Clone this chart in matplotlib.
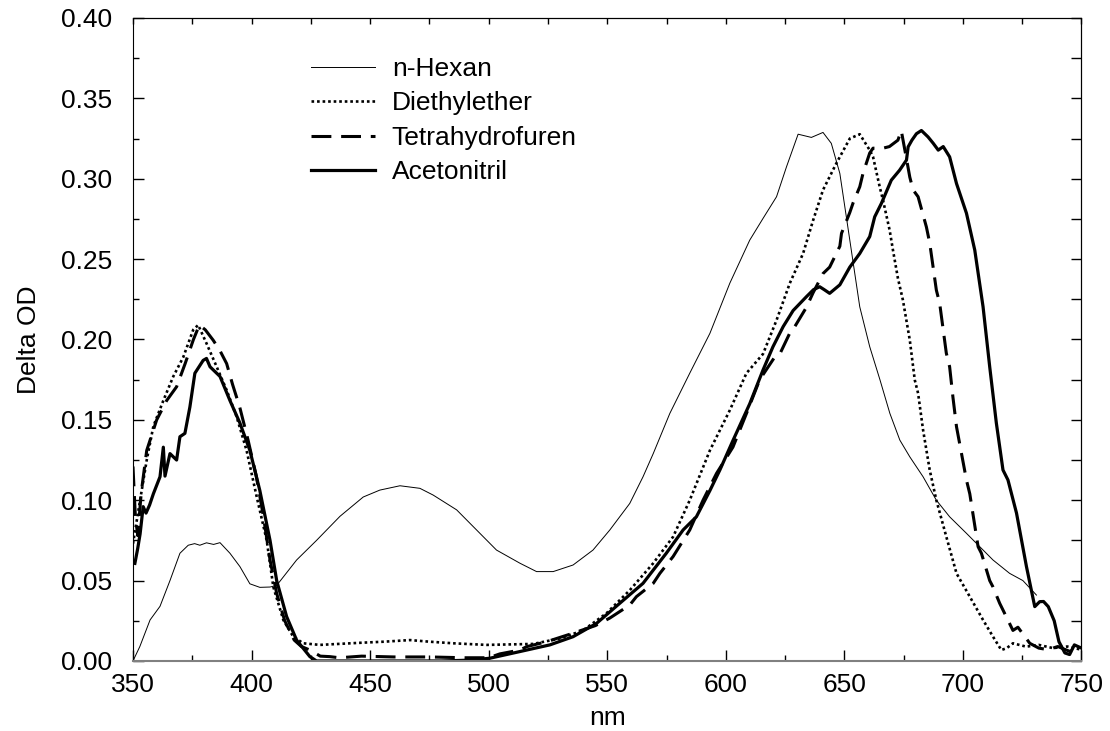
import matplotlib
matplotlib.use("Agg")
import matplotlib.pyplot as plt
from matplotlib.ticker import MultipleLocator, FormatStrFormatter, NullFormatter

plt.rcParams['font.family'] = ['Liberation Sans', 'DejaVu Sans']
plt.rcParams['font.size'] = 19

# n-Hexan (thin line)
hex_x = [350, 352.9, 357.2, 361.4, 365.6, 369.8, 373.3, 376, 378.2, 381, 384, 386.7, 390.9,
         395.1, 399.3, 403.5, 407.8, 410.6, 419, 427.4, 437.3, 447.1, 454.1, 462.6, 471, 476.6,
         486.5, 494.9, 503.3, 513.2, 520.2, 527.2, 535.6, 544, 551.1, 559.5, 565.1, 569.4, 576.4,
         584.8, 593.3, 601.7, 610.1, 615.7, 621.4, 625.6, 630.5, 636.1, 641, 644.5, 648.1, 652.3,
         656.5, 660.7, 665, 669.2, 673.4, 677.6, 683.2, 688.8, 694.4, 701.5, 707.1, 712.7, 719.7,
         725.3, 731]
hex_y = [0.0, 0.009, 0.0255, 0.034, 0.050, 0.067, 0.072, 0.073, 0.072, 0.0735, 0.0725, 0.0736, 0.067,
         0.0587, 0.048, 0.0458, 0.046, 0.047, 0.0628, 0.075, 0.090, 0.102, 0.1063, 0.109, 0.1074, 0.1032,
         0.094, 0.0815, 0.069, 0.0608, 0.0556, 0.0556, 0.0597, 0.069, 0.0815, 0.098, 0.1146, 0.129, 0.154,
         0.179, 0.2038, 0.235, 0.2618, 0.2753, 0.2888, 0.3074, 0.3277, 0.3257, 0.3288, 0.322, 0.3033, 0.2618,
         0.2203, 0.1955, 0.175, 0.154, 0.1374, 0.127, 0.1146, 0.100, 0.0897, 0.0794, 0.0711, 0.0628, 0.0545,
         0.050, 0.041]

# Diethylether (dotted)
ether_x = [350, 353, 355.8, 358.6, 362.8, 367, 371.2, 375.4, 377.5, 381, 385.3, 389.5, 393.7, 397.9,
           402.2, 406.4, 409.2, 413.4, 417.6, 421.8, 428.8, 447.1, 456, 466.8, 475, 485, 499.1, 518.8,
           530, 539.8, 549.7, 559.5, 569.4, 577.8, 584.8, 593.3, 601.7, 608.7, 615.7, 621.4, 627, 632.6,
           636.8, 641, 646.6, 652.3, 656.5, 660.7, 662.1, 664.9, 666.3, 669.1, 670.5, 672.6, 674.7, 677.6,
           679.7, 681.1, 683.2, 686, 688.8, 693, 697.3, 702.9, 708.5, 712.7, 716.2, 718.5, 721.1, 726.7,
           732, 738, 744, 750]
ether_y = [0.073, 0.100, 0.125, 0.146, 0.162, 0.177, 0.189, 0.206, 0.209, 0.1976, 0.183, 0.1685, 0.152, 0.131,
           0.102, 0.075, 0.046, 0.0255, 0.0151, 0.011, 0.010, 0.0114, 0.012, 0.013, 0.012, 0.011, 0.010, 0.0106,
           0.014, 0.019, 0.0297, 0.044, 0.0608, 0.0773, 0.100, 0.131, 0.156, 0.179, 0.191, 0.212, 0.235, 0.2535,
           0.274, 0.293, 0.3095, 0.325, 0.3277, 0.3178, 0.3136, 0.295, 0.2867, 0.268, 0.2556, 0.238, 0.2245, 0.1996,
           0.1748, 0.1665, 0.1437, 0.1188, 0.100, 0.0773, 0.0545, 0.040, 0.0255, 0.0151, 0.0068, 0.008, 0.011, 0.0089,
           0.010, 0.008, 0.009, 0.007]

# Tetrahydrofuren (dashed)
thf_x = [350, 351, 352, 353.5, 355.8, 360, 364.2, 368.4, 372, 375.5, 378, 380.5, 383.8, 386.7, 389.5,
         392, 395, 398.6, 402, 405, 407.8, 410.6, 414, 418, 421, 424.6, 429, 433, 437, 446.4, 460, 475,
         490, 500, 504.7, 513.2, 516, 524.5, 535, 545, 551.1, 559.5, 562.3, 569.4, 572.2, 577.8, 584.8,
         590.4, 596.1, 603, 609, 614.3, 620.6, 622.8, 627, 629.1, 634, 636.8, 641, 643.8, 648.1, 648.8,
         652.3, 653.7, 656.5, 657.9, 660.7, 662.1, 666.3, 669, 672.6, 674, 675, 676.5, 677.6, 679, 681.1,
         684.6, 686, 688.8, 690.2, 693, 694.4, 695.8, 697.3, 701.5, 702.9, 706.4, 707.8, 711.3, 712.7,
         715.5, 716.9, 721.1, 723.2, 728.2, 732, 736, 740, 745, 750]
thf_y = [0.121, 0.09, 0.078, 0.105, 0.131, 0.150, 0.162, 0.1706, 0.185, 0.200, 0.209, 0.206, 0.1996, 0.193, 0.185,
         0.172, 0.158, 0.137, 0.115, 0.09, 0.0628, 0.042, 0.025, 0.013, 0.009, 0.0068, 0.003, 0.0027, 0.002, 0.003,
         0.0025, 0.0025, 0.002, 0.002, 0.0044, 0.0068, 0.0089, 0.012, 0.017, 0.022, 0.0267, 0.0348, 0.040, 0.0483,
         0.0545, 0.065, 0.0815, 0.100, 0.1167, 0.133, 0.155, 0.175, 0.189, 0.191, 0.204, 0.208, 0.22, 0.229, 0.241,
         0.245, 0.258, 0.266, 0.279, 0.285, 0.295, 0.3035, 0.316, 0.319, 0.319, 0.32, 0.324, 0.330, 0.322, 0.31,
         0.301, 0.293, 0.2888, 0.270, 0.26, 0.2307, 0.2225, 0.1915, 0.183, 0.164, 0.1457, 0.1125, 0.104, 0.0711,
         0.067, 0.050, 0.046, 0.0359, 0.0317, 0.019, 0.021, 0.011, 0.008, 0.007, 0.009, 0.006, 0.008]

# Acetonitril (thick solid)
acn_x = [350.8, 352, 353, 354.3, 355.5, 357, 358.6, 361.4, 362.8, 363.5, 365.6, 368.4, 369.8, 371.9, 374,
         376.1, 379.6, 381, 382.5, 386.7, 390.9, 395.1, 399.3, 403.5, 407.8, 410.6, 414.8, 419, 424.6, 427.4,
         440, 460, 480, 492, 500.5, 513, 525.8, 535.6, 545.5, 555.3, 565.1, 574.9, 582, 587.6, 593.3, 597.5,
         603.1, 610.1, 615.7, 619.9, 624.2, 628.4, 634, 637, 639.6, 641.5, 643.8, 648.1, 652.3, 656.5, 660.7,
         662.8, 665.6, 669.8, 673.3, 676.2, 676.9, 678.5, 680.4, 682.5, 685.3, 687.5, 689.6, 691.7, 694.4,
         697.3, 701.5, 705, 708.5, 711.3, 714.1, 716.9, 719, 722.6, 726.8, 730.3, 732.4, 734, 736, 738.5,
         740.5, 743, 745, 747, 750]
acn_y = [0.0607, 0.07, 0.079, 0.096, 0.092, 0.097, 0.104, 0.1146, 0.133, 0.115, 0.129, 0.125, 0.1395, 0.1416, 0.158,
         0.179, 0.187, 0.1882, 0.183, 0.177, 0.162, 0.148, 0.131, 0.106, 0.075, 0.050, 0.0276, 0.013, 0.0027, 0.0,
         0.0, 0.0, 0.0, 0.0005, 0.0017, 0.0058, 0.010, 0.0151, 0.0234, 0.0359, 0.0483, 0.067, 0.0815, 0.0897, 0.106,
         0.1188, 0.1374, 0.160, 0.181, 0.1955, 0.208, 0.218, 0.2266, 0.231, 0.2328, 0.231, 0.2287, 0.234, 0.245,
         0.2535, 0.264, 0.2763, 0.2846, 0.2991, 0.3053, 0.3116, 0.3198, 0.324, 0.328, 0.330, 0.326, 0.322, 0.3178,
         0.320, 0.3136, 0.297, 0.2785, 0.2556, 0.2203, 0.183, 0.148, 0.1188, 0.1126, 0.092, 0.0587, 0.0338, 0.0369,
         0.037, 0.0338, 0.025, 0.012, 0.005, 0.004, 0.01, 0.008]

fig = plt.figure(figsize=(11.1, 7.31), dpi=100)
ax = fig.add_axes([0.1198, 0.0958, 0.8545, 0.8796])

ax.plot(hex_x, hex_y, color='black', lw=0.7, label='n-Hexan')
ax.plot(ether_x, ether_y, color='black', lw=1.9, linestyle=(0, (1, 1.1)), label='Diethylether')
ax.plot(thf_x, thf_y, color='black', lw=2.2, linestyle=(0, (6.5, 3.2)), label='Tetrahydrofuren')
ax.plot(acn_x, acn_y, color='black', lw=2.3, label='Acetonitril')

ax.set_xlim(350, 750)
ax.set_ylim(0, 0.40)
ax.xaxis.set_major_locator(MultipleLocator(50))
ax.xaxis.set_minor_locator(MultipleLocator(25))
ax.yaxis.set_major_locator(MultipleLocator(0.05))
ax.yaxis.set_minor_locator(MultipleLocator(0.025))
ax.yaxis.set_major_formatter(FormatStrFormatter('%.2f'))
ax.tick_params(which='major', direction='in', length=8, width=1)
ax.tick_params(which='minor', direction='in', length=4, width=1)
ax.tick_params(axis='y', which='major', pad=15)
ax.tick_params(axis='x', which='major', pad=9)

# top and right ticks, no labels
top = ax.secondary_xaxis('top')
top.xaxis.set_major_locator(MultipleLocator(25))
top.xaxis.set_major_formatter(NullFormatter())
top.tick_params(direction='in', length=4.5, width=1)
right = ax.secondary_yaxis('right')
right.yaxis.set_major_locator(MultipleLocator(0.025))
right.yaxis.set_major_formatter(NullFormatter())
right.tick_params(direction='in', length=7, width=1)

ax.spines['bottom'].set_color('#808080')
ax.spines['bottom'].set_linewidth(1.5)

ax.set_xlabel('nm', labelpad=6)
ax.set_ylabel('Delta OD', labelpad=14)

ax.legend(loc='upper left', bbox_to_anchor=(0.163, 0.976), frameon=False,
          handlelength=2.4, handletextpad=0.65, labelspacing=0.39)

fig.savefig('out.png', dpi=100)
